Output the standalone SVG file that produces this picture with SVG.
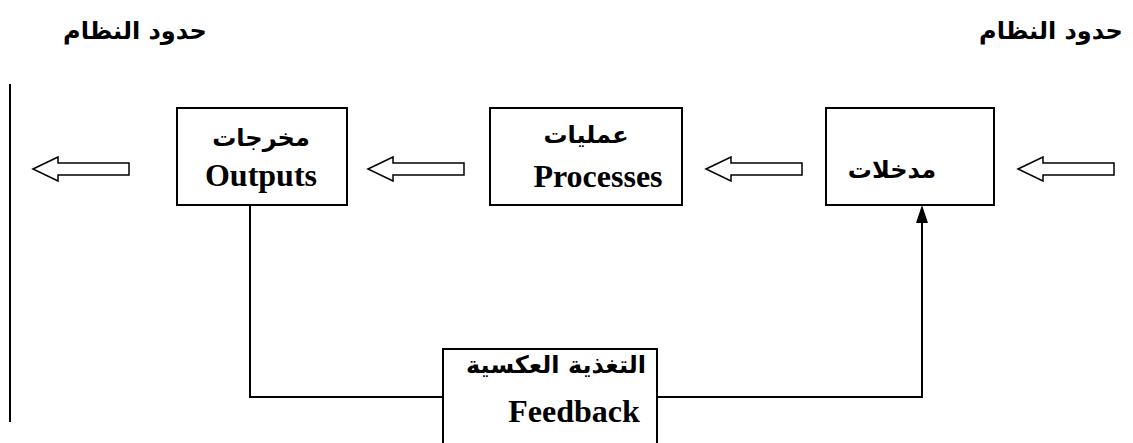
<svg xmlns="http://www.w3.org/2000/svg" xmlns:xlink="http://www.w3.org/1999/xlink" width="1133" height="443" viewBox="0 0 1133 443">
<defs>
<style>
.box{fill:#fff;stroke:#000;stroke-width:2}
.line{fill:none;stroke:#000;stroke-width:2}
.harrow{fill:#fff;stroke:#000;stroke-width:1.5}
.ar{font-family:"DejaVu Sans","Liberation Sans",sans-serif;font-weight:bold;fill:#000}
.en{font-family:"Liberation Serif",serif;font-weight:bold;font-size:32px;fill:#000}
.title{font-family:"DejaVu Sans","Liberation Sans",sans-serif;font-weight:bold;font-size:24px;fill:#000}
</style>
<path id="ha" d="M0,0 L25,-12 L25,-6 L96,-6 L96,6 L25,6 L25,12 Z"/>
</defs>
<rect width="1133" height="443" fill="#fff"/>
<g id="titles">
<text class="title" x="135" y="39" text-anchor="middle" direction="rtl">حدود النظام</text>
<text class="title" x="1051" y="39" text-anchor="middle" direction="rtl">حدود النظام</text>
</g>
<g id="boundary">
<line class="line" x1="10" y1="84" x2="10" y2="422"/>
</g>
<g id="connectors">
<use href="#ha" class="harrow" x="33" y="169"/>
<use href="#ha" class="harrow" x="368" y="169"/>
<use href="#ha" class="harrow" x="706" y="169"/>
<use href="#ha" class="harrow" x="1018" y="169"/>
<polyline class="line" points="250,205 250,397 443,397"/>
<polyline class="line" points="657,397 922,397 922,222"/>
<path d="M916,223 L922,205 L928,223 Z" fill="#000"/>
</g>
<g id="outputs">
<rect class="box" x="177" y="108" width="170" height="97"/>
<text class="ar" x="261" y="146" font-size="24" text-anchor="middle" direction="rtl">مخرجات</text>
<text class="en" x="261" y="186" text-anchor="middle">Outputs</text>
</g>
<g id="processes">
<rect class="box" x="490" y="108" width="192" height="97"/>
<text class="ar" x="586" y="143" font-size="24" text-anchor="middle" direction="rtl">عمليات</text>
<text class="en" x="598" y="187" text-anchor="middle">Processes</text>
</g>
<g id="inputs">
<rect class="box" x="826" y="108" width="168" height="97"/>
<text class="ar" x="892" y="178" font-size="24" text-anchor="middle" direction="rtl">مدخلات</text>
</g>
<g id="feedback">
<rect class="box" x="443" y="349" width="214" height="100"/>
<text class="ar" x="556" y="373" font-size="24" text-anchor="middle" direction="rtl">التغذية العكسية</text>
<text class="en" x="574" y="422" text-anchor="middle">Feedback</text>
</g>
</svg>
